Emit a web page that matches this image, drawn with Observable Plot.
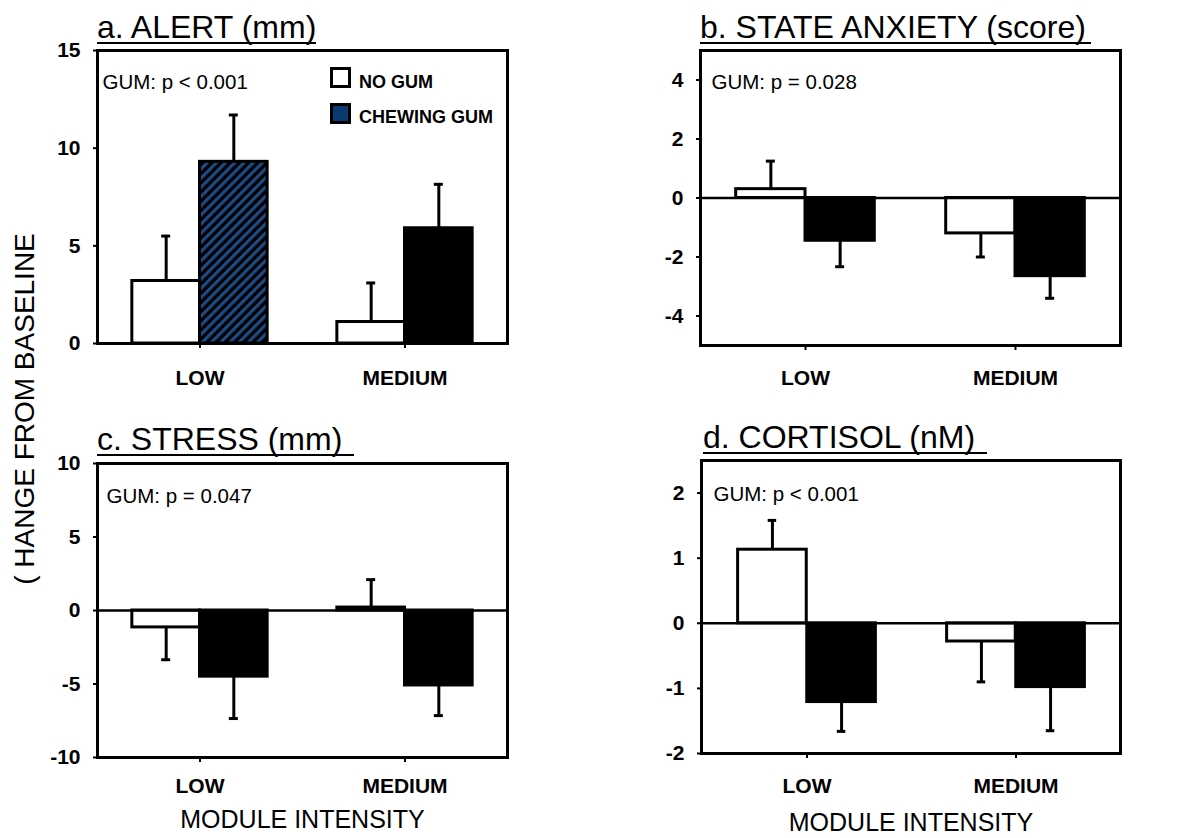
<!DOCTYPE html>
<html><head><meta charset="utf-8">
<script src="https://cdn.jsdelivr.net/npm/d3@7"></script>
<script src="https://cdn.jsdelivr.net/npm/@observablehq/plot@0.6"></script>
<style>
body{margin:0;background:#fff;font-family:'Liberation Sans',Arial,sans-serif;}
#root{position:relative;width:1188px;height:838px;overflow:hidden;background:#fff;}
.panel{position:absolute;}
.title{position:absolute;font-size:32px;line-height:32px;height:31px;border-bottom:2px solid #000;white-space:nowrap;color:#000;}
.lgbox{position:absolute;width:21px;height:21px;box-sizing:border-box;border:3px solid #000;}
.lgtext{position:absolute;font-size:18px;line-height:18px;font-weight:bold;white-space:nowrap;}
.ylab{position:absolute;font-size:28px;line-height:28px;white-space:nowrap;transform:translate(-50%,-50%) rotate(-90deg);}
</style></head><body><div id="root"></div>
<script>
// ---- data ----
const intensities = ["LOW", "MEDIUM"];
const conditions = ["NO GUM", "CHEWING GUM"];
const titles = ["a. ALERT (mm)", "b. STATE ANXIETY (score)", "c. STRESS (mm)", "d. CORTISOL (nM)"];
const gumLabels = ["GUM: p < 0.001", "GUM: p = 0.028", "GUM: p = 0.047", "GUM: p < 0.001"];
const xLabel = "MODULE INTENSITY";
const yLabel = "( HANGE FROM BASELINE";

const alertTicks = [0, 5, 10, 15];
const alertDomain = [0, 15];
const alertNoGum = [3.2, 1.1];
const alertNoGumSE = [2.3, 2.0];
const alertGum = [9.3, 5.9];
const alertGumSE = [2.4, 2.25];

const anxietyTicks = [-4, -2, 0, 2, 4];
const anxietyDomain = [-5, 5];
const anxietyNoGum = [0.3, -1.2];
const anxietyNoGumSE = [0.95, 0.8];
const anxietyGum = [-1.45, -2.65];
const anxietyGumSE = [0.88, 0.75];

const stressTicks = [-10, -5, 0, 5, 10];
const stressDomain = [-10, 10];
const stressNoGum = [-1.15, 0.2];
const stressNoGumSE = [2.2, 1.9];
const stressGum = [-4.5, -5.1];
const stressGumSE = [2.85, 2.05];

const cortisolTicks = [-2, -1, 0, 1, 2];
const cortisolDomain = [-2, 2.5];
const cortisolNoGum = [1.13, -0.28];
const cortisolNoGumSE = [0.45, 0.62];
const cortisolGum = [-1.21, -0.98];
const cortisolGumSE = [0.45, 0.67];

const hatchedBars = [["LOW"], [], [], []]; // only panel a LOW chewing-gum bar is hatched

// ---- layout ----
const root = document.getElementById("root");
const FONT = "'Liberation Sans', Arial, sans-serif";

const panels = [
  {id: "a", left: 0, top: 0, width: 560, height: 420, ml: 97, mt: 50, mr: 53, mb: 77,
   domain: alertDomain, ticks: alertTicks, noGum: alertNoGum, noGumSE: alertNoGumSE, gum: alertGum, gumSE: alertGumSE,
   xpad: 22, gdx: 5, gdy: 31.6, title: {x: 97, base: 38, pad: 0}, showX: false},
  {id: "b", left: 594, top: 0, width: 560, height: 420, ml: 106, mt: 50, mr: 34, mb: 75,
   domain: anxietyDomain, ticks: anxietyTicks, noGum: anxietyNoGum, noGumSE: anxietyNoGumSE, gum: anxietyGum, gumSE: anxietyGumSE,
   xpad: 20, gdx: 11, gdy: 31.6, title: {x: 700, base: 38, pad: 5}, showX: false},
  {id: "c", left: 0, top: 420, width: 560, height: 418, ml: 97, mt: 43, mr: 53, mb: 81,
   domain: stressDomain, ticks: stressTicks, noGum: stressNoGum, noGumSE: stressNoGumSE, gum: stressGum, gumSE: stressGumSE,
   xpad: 16, gdx: 9, gdy: 32.6, title: {x: 97, base: 450, pad: 12}, showX: true, xdy: 62},
  {id: "d", left: 594, top: 420, width: 560, height: 418, ml: 107, mt: 40, mr: 34, mb: 85,
   domain: cortisolDomain, ticks: cortisolTicks, noGum: cortisolNoGum, noGumSE: cortisolNoGumSE, gum: cortisolGum, gumSE: cortisolGumSE,
   xpad: 20, gdx: 12, gdy: 33.6, title: {x: 703, base: 448, pad: 12}, showX: true, xdy: 69}
];

panels.forEach((p, pi) => {
  const fw = p.width - p.ml - p.mr;
  const bw = fw / 2;
  const frac = 0.33;
  const outer = bw * (0.5 - frac), inner = bw * 0.5;
  const off = bw * frac / 2;
  const capHalf = 4.5;
  const rows = [];
  intensities.forEach((k, i) => {
    rows.push({intensity: k, cond: conditions[0], mean: p.noGum[i], se: p.noGumSE[i]});
    rows.push({intensity: k, cond: conditions[1], mean: p.gum[i], se: p.gumSE[i]});
  });
  rows.forEach(r => r.end = r.mean + Math.sign(r.mean) * r.se);
  const ng = rows.filter(r => r.cond === conditions[0]);
  const g = rows.filter(r => r.cond === conditions[1]);
  const hat = hatchedBars[pi];
  const gH = g.filter(r => hat.includes(r.intensity));
  const gS = g.filter(r => !hat.includes(r.intensity));

  const marks = [
    Plot.barY(ng, {x: "intensity", y: "mean", fill: "white", stroke: "black", strokeWidth: 3, insetLeft: outer, insetRight: inner}),
    Plot.barY(gS, {x: "intensity", y: "mean", fill: "black", stroke: "black", strokeWidth: 3, insetLeft: inner, insetRight: outer}),
    Plot.barY(gH, {x: "intensity", y: "mean", fill: `url(#hatch-${p.id})`, stroke: "black", strokeWidth: 3, insetLeft: inner, insetRight: outer}),
    Plot.ruleY([0], {strokeWidth: 2.5}),
    Plot.ruleX(ng, {x: "intensity", y1: "mean", y2: "end", dx: -off, strokeWidth: 3}),
    Plot.ruleX(g, {x: "intensity", y1: "mean", y2: "end", dx: off, strokeWidth: 3}),
    Plot.tickY(ng, {x: "intensity", y: "end", insetLeft: inner - off - capHalf, insetRight: inner + off - capHalf, strokeWidth: 3}),
    Plot.tickY(g, {x: "intensity", y: "end", insetLeft: inner + off - capHalf, insetRight: inner - off - capHalf, strokeWidth: 3}),
    Plot.frame({strokeWidth: 3}),
    Plot.axisY({ticks: p.ticks, tickFormat: d => String(d), tickSize: 4, tickPadding: 13, fontSize: 21, fontWeight: "bold", strokeWidth: 2, label: null}),
    Plot.axisX({tickSize: 5, tickPadding: p.xpad, fontSize: 21, fontWeight: "bold", strokeWidth: 2, label: null}),
    Plot.text([gumLabels[pi]], {text: d => d, frameAnchor: "top-left", textAnchor: "start", lineAnchor: "middle", dx: p.gdx, dy: p.gdy, fontSize: 20.5})
  ];
  if (p.showX) marks.push(Plot.text([xLabel], {text: d => d, frameAnchor: "bottom", lineAnchor: "middle", dy: p.xdy, fontSize: 25}));

  const svg = Plot.plot({
    width: p.width, height: p.height,
    marginLeft: p.ml, marginTop: p.mt, marginRight: p.mr, marginBottom: p.mb,
    x: {type: "band", domain: intensities, padding: 0, label: null},
    y: {domain: p.domain, label: null},
    style: {fontFamily: FONT, background: "transparent", overflow: "visible", color: "black"},
    marks
  });
  d3.select(svg).insert("defs", ":first-child").html(
    `<pattern id="hatch-${p.id}" patternUnits="userSpaceOnUse" width="6.5" height="6.5" patternTransform="rotate(45)">
       <rect width="6.5" height="6.5" fill="#000"/><rect width="3.2" height="6.5" fill="#1d4b86"/></pattern>`);
  const holder = document.createElement("div");
  holder.className = "panel";
  holder.style.left = p.left + "px";
  holder.style.top = p.top + "px";
  holder.appendChild(svg);
  root.appendChild(holder);

  const t = document.createElement("div");
  t.className = "title";
  t.textContent = titles[pi];
  t.style.left = p.title.x + "px";
  t.style.top = (p.title.base - 27.1) + "px";
  t.style.paddingRight = p.title.pad + "px";
  root.appendChild(t);
});

// legend (panel a)
const legendItems = [
  {label: conditions[0], fill: "#fff", boxTop: 67, base: 88},
  {label: conditions[1], fill: "#0b3a6e", boxTop: 103, base: 123}
];
legendItems.forEach(it => {
  const b = document.createElement("div");
  b.className = "lgbox";
  b.style.left = "330px";
  b.style.top = it.boxTop + "px";
  b.style.background = it.fill;
  root.appendChild(b);
  const tx = document.createElement("div");
  tx.className = "lgtext";
  tx.textContent = it.label;
  tx.style.left = "359px";
  tx.style.top = (it.base - 15.2) + "px";
  root.appendChild(tx);
});

// shared y label
const yl = document.createElement("div");
yl.className = "ylab";
yl.textContent = yLabel;
yl.style.left = "25px";
yl.style.top = "409px";
root.appendChild(yl);
</script></body></html>
